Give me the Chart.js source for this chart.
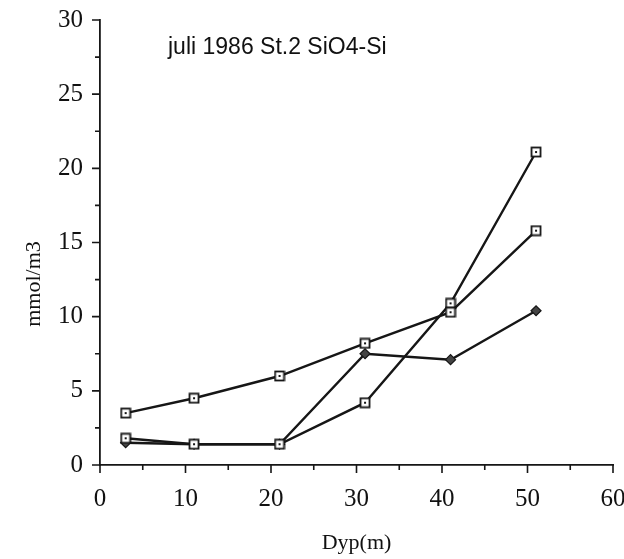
<!DOCTYPE html>
<html>
<head>
<meta charset="utf-8">
<title>SiO4-Si St.2</title>
<script src="https://cdn.jsdelivr.net/npm/chart.js@4.4.0/dist/chart.umd.min.js"></script>
<style>
  html, body { margin: 0; padding: 0; background: #fff; }
  #wrap { width: 624px; height: 559px; position: relative; }
</style>
</head>
<body>
<div id="wrap"><canvas id="silikat"></canvas></div>
<script>
// dyp (m) og konsentrasjoner (mmol/m3)
var dybde  = [3, 11, 21, 31, 41, 51];
var serieA = [3.5, 4.5, 6.0, 8.2, 10.3, 15.8];
var serieB = [1.8, 1.4, 1.4, 4.2, 10.9, 21.1];
var serieC = [1.5, 1.4, 1.4, 7.5, 7.1, 10.4];
var xEtiketter = [0, 10, 20, 30, 40, 50, 60];
var yEtiketter = [0, 5, 10, 15, 20, 25, 30];

var tittel = 'juli 1986 St.2 SiO4-Si';
var xTittel = 'Dyp(m)';
var yTittel = 'mmol/m3';

var strek = '#161616';
var serif = '"Liberation Serif", "DejaVu Serif", serif';

function punkter(ys) {
	var ut = [];
	for (var i = 0; i < dybde.length; i++) { ut.push({ x: dybde[i], y: ys[i] }); }
	return ut;
}

// apen firkant med prikk i midten
function lagFirkant() {
	var c = document.createElement('canvas');
	c.width = 12; c.height = 12;
	var g = c.getContext('2d');
	g.fillStyle = '#fff';
	g.fillRect(1, 1, 10, 10);
	g.strokeStyle = strek;
	g.lineWidth = 1.8;
	g.strokeRect(1.5, 1.5, 9, 9);
	g.fillStyle = strek;
	g.fillRect(5, 5, 2, 2);
	return c;
}
var firkant = lagFirkant();

// egne tikkmerker: lange pa etiketter, korte i mellom
var tikkPlugin = {
	id: 'tikker',
	afterDraw: function (chart) {
		var ctx = chart.ctx;
		var xs = chart.scales.x, ys = chart.scales.y;
		var area = chart.chartArea;
		ctx.save();
		ctx.strokeStyle = strek;
		ctx.lineWidth = 1.6;
		ctx.beginPath();
		for (var v = 0; v <= 60; v += 5) {
			var px = xs.getPixelForValue(v);
			var len = (xEtiketter.indexOf(v) >= 0) ? 8 : 5;
			ctx.moveTo(px, area.bottom);
			ctx.lineTo(px, area.bottom + len);
		}
		for (var w = 0; w <= 30; w += 2.5) {
			var py = ys.getPixelForValue(w);
			var l2 = (yEtiketter.indexOf(w) >= 0) ? 8 : 5;
			ctx.moveTo(area.left, py);
			ctx.lineTo(area.left - l2, py);
		}
		ctx.stroke();

		// tittel inne i plottet
		ctx.fillStyle = '#111';
		ctx.font = '23px "Liberation Sans", Arial, sans-serif';
		ctx.textAlign = 'left';
		ctx.textBaseline = 'middle';
		ctx.fillText(tittel, 168, 48);

		// y-aksens tittel, rotert
		ctx.translate(34, 284);
		ctx.rotate(-Math.PI / 2);
		ctx.font = '22px ' + serif;
		ctx.textAlign = 'center';
		ctx.fillText(yTittel, 0, 0);
		ctx.restore();
	}
};

var linje = {
	borderColor: strek,
	borderWidth: 2.4,
	showLine: true,
	tension: 0,
	fill: false
};

new Chart(document.getElementById('silikat'), {
	type: 'scatter',
	data: {
		datasets: [
			Object.assign({ label: 'A', data: punkter(serieA), pointStyle: firkant }, linje),
			Object.assign({ label: 'B', data: punkter(serieB), pointStyle: firkant }, linje),
			Object.assign({ label: 'C', data: punkter(serieC), pointStyle: 'rectRot',
				pointRadius: 5, pointBackgroundColor: '#444', pointBorderColor: strek, pointBorderWidth: 1.2 }, linje)
		]
	},
	options: {
		responsive: true,
		maintainAspectRatio: false,
		animation: false,
		events: [],
		layout: { padding: { top: 20, right: 11, left: 0, bottom: 0 } },
		plugins: {
			legend: { display: false },
			tooltip: { enabled: false }
		},
		scales: {
			x: {
				type: 'linear',
				min: 0, max: 60,
				grid: { display: false, drawTicks: false },
				border: { display: true, color: strek, width: 1.8 },
				ticks: {
					stepSize: 5,
					padding: 19,
					color: '#111',
					font: { family: serif, size: 25 },
					maxRotation: 0,
					autoSkip: false,
					callback: function (v) { return xEtiketter.indexOf(v) >= 0 ? String(v) : ''; }
				},
				title: {
					display: true,
					text: xTittel,
					color: '#111',
					font: { family: serif, size: 22 },
					padding: { top: 0, bottom: 3 }
				},
				afterFit: function (s) { s.height = 94; s.paddingRight = 0; s.paddingLeft = 0; }
			},
			y: {
				type: 'linear',
				min: 0, max: 30,
				grid: { display: false, drawTicks: false },
				border: { display: true, color: strek, width: 1.8 },
				ticks: {
					stepSize: 2.5,
					padding: 17,
					color: '#111',
					font: { family: serif, size: 25 },
					autoSkip: false,
					callback: function (v) { return yEtiketter.indexOf(v) >= 0 ? String(v) : ''; }
				},
				afterFit: function (s) { s.width = 100; s.paddingTop = 0; s.paddingBottom = 0; }
			}
		}
	},
	plugins: [tikkPlugin]
});
</script>
</body>
</html>
